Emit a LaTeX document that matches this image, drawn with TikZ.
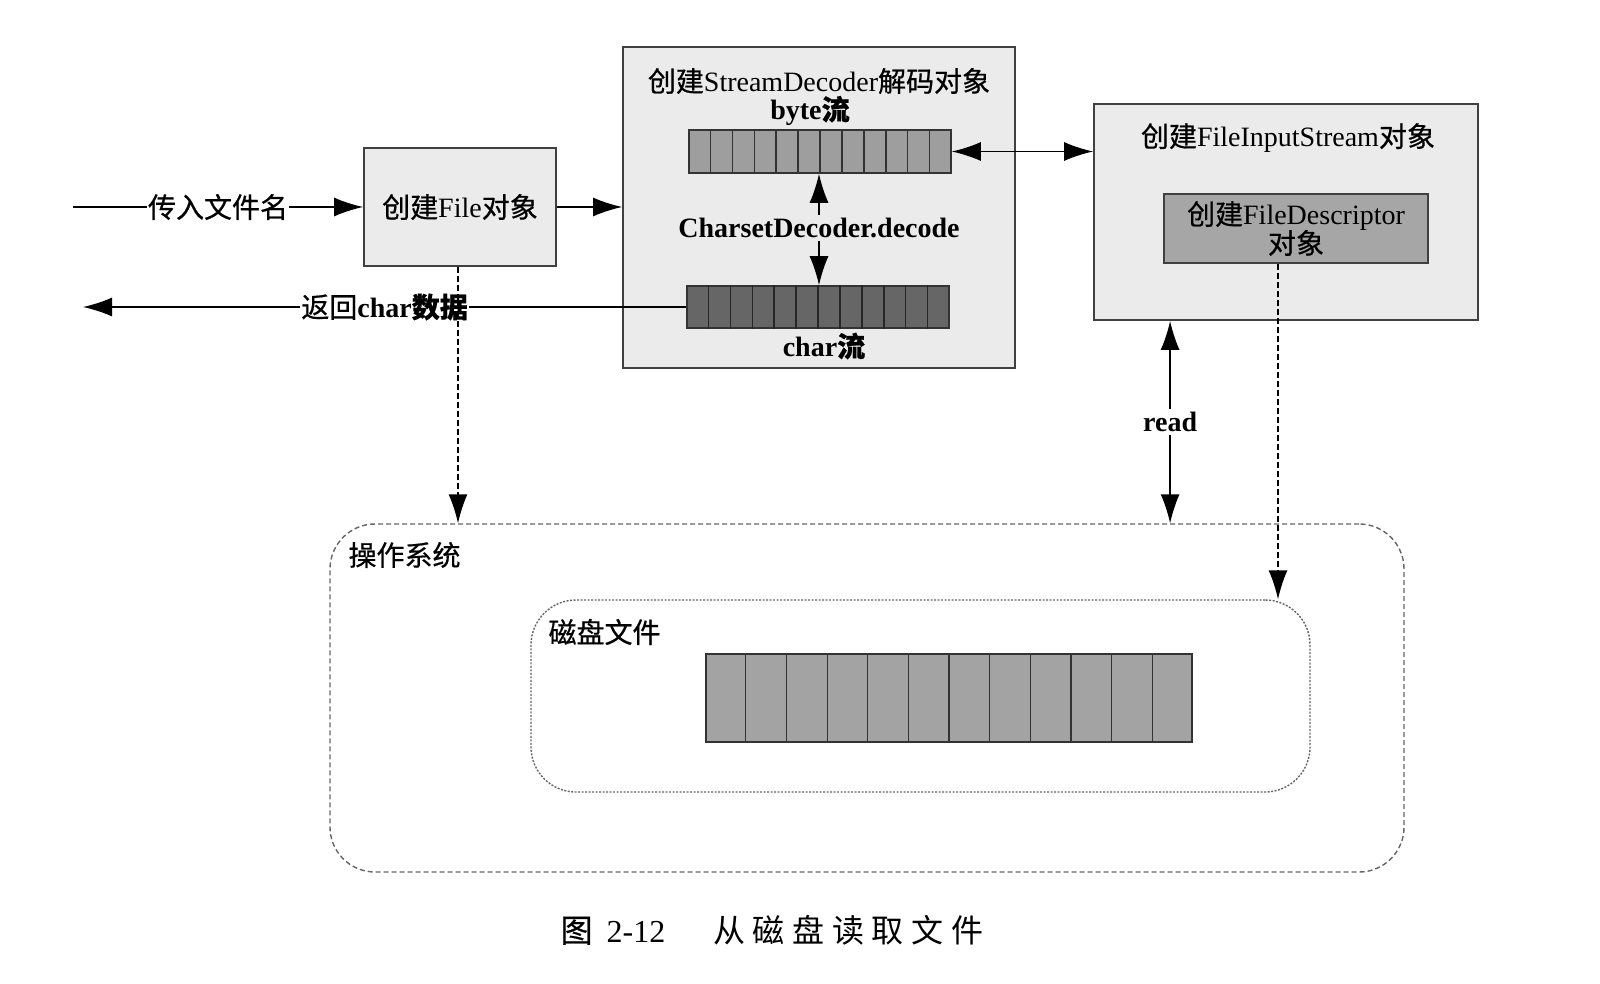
\documentclass[tikz,border=0pt]{standalone}
\usepackage{fontspec}
\setmainfont{Liberation Serif}
\newfontfamily\cjk[FakeBold=0.6]{Noto Sans CJK SC}
\newfontfamily\capfont[LetterSpace=24]{Noto Sans CJK SC}
\usepackage{tikz}
\usetikzlibrary{positioning,arrows.meta,calc}
\newcommand{\zh}[1]{{\cjk #1}}

\begin{document}
\begin{tikzpicture}[x=1pt,y=-1pt,font=\fontsize{28}{33}\selectfont]
 \tikzset{box/.style={draw=black!75,line width=1.8pt,fill=black!8,inner sep=0pt},
  cellrow/.style={draw=black!80,line width=1.6pt,inner sep=0pt},
  boldlabel/.style={font=\fontsize{28}{33}\selectfont\bfseries},
  arrow/.style={line width=1.4pt,-{Latex[length=29pt,width=19pt]}},
  twoway/.style={line width=1.4pt,{Latex[length=29pt,width=19pt]}-{Latex[length=29pt,width=19pt]}},
  dasharrow/.style={arrow,dash pattern=on 6pt off 3pt},
  region/.style={draw=black!60,line width=1.4pt,rounded corners=45pt,inner sep=0pt}}
 \useasboundingbox (0,0) rectangle (1600,984);

 % operating system and disk file
 \node[region,dash pattern=on 5pt off 3pt,minimum width=1074pt,minimum height=348pt] (os) at (867,698) {};
 \node[anchor=west] (oslabel) at (345,555) {\zh{操作系统}};
 \node[region,dash pattern=on 2pt off 1.5pt,minimum width=779pt,minimum height=192pt] (disk) at (920.5,696) {};
 \node[anchor=west] (disklabel) at (545,632) {\zh{磁盘文件}};
 \node[cellrow,fill=black!36,minimum width=486pt,minimum height=88pt] (diskarr) at (949,698) {};
 \foreach \i in {1,...,11}
  \draw[line width=1.2pt,black!80] ($(diskarr.north west)!\i/12!(diskarr.north east)$) -- ($(diskarr.south west)!\i/12!(diskarr.south east)$);

 % objects
 \node[box,minimum width=192pt,minimum height=118pt] (file) at (460,207) {\zh{创建}File\zh{对象}};
 \node[box,minimum width=392pt,minimum height=321pt] (dec) at (819,207.5) {};
 \node (dectitle) at (819,81) {\zh{创建}StreamDecoder\zh{解码对象}};
 \node[boldlabel] (bytelabel) at (810,111) {byte\zh{流}};
 \node[cellrow,fill=black!38,minimum width=262pt,minimum height=43pt] (byte) at (820,151.5) {};
 \node[cellrow,fill=black!60,minimum width=262pt,minimum height=42pt] (char) at (818,307) {};
 \foreach \i in {1,...,11} {
  \draw[line width=1.2pt,black!80] ($(byte.north west)!\i/12!(byte.north east)$) -- ($(byte.south west)!\i/12!(byte.south east)$);
  \draw[line width=1.2pt,black!85] ($(char.north west)!\i/12!(char.north east)$) -- ($(char.south west)!\i/12!(char.south east)$);
 }
 \node[boldlabel] (decode) at (819,228) {CharsetDecoder.decode};
 \node[boldlabel] (charlabel) at (824,346) {char\zh{流}};

 \node[box,minimum width=384pt,minimum height=216pt] (fis) at (1286,212) {};
 \node (fistitle) at (1288,138) {\zh{创建}FileInputStream\zh{对象}};
 \node[box,fill=black!35,minimum width=264pt,minimum height=69pt,align=center] (fd) at (1296,228.5)
  {\zh{创建}FileDescriptor\\[-4pt]\zh{对象}};

 % connectors
 \coordinate (in) at (73,207);
 \coordinate (out) at (83,305);
 \draw[arrow] (in) -- node[fill=white,inner sep=1pt] {\zh{传入文件名}} (file);
 \draw[arrow] (file.east) -- (file.east -| dec.west);
 \draw[twoway] (byte.east) -- (byte.east -| fis.west);
 \draw[arrow] (decode.north) -- (decode.north |- byte.south);
 \draw[arrow] (decode.south) -- (decode.south |- char.north);
 \draw[arrow] (char.west) -- node[fill=white,inner sep=1pt] {\zh{返回}\textbf{char}{\cjk\bfseries 数据}} (char.west -| out);
 \draw[dasharrow] ([xshift=-2pt]file.south) -- ([xshift=-2pt]file.south |- os.north);
 \draw[twoway] ([xshift=77pt]fis.south west) -- node[fill=white,boldlabel,inner sep=3pt] {read} ([xshift=77pt]fis.south west |- os.north);
 \draw[dasharrow] ([xshift=-18pt]fd.south) -- ([xshift=-18pt]fd.south |- disk.north);

 % caption
 \node[font=\fontsize{32}{38}\selectfont] (caption) at (772,930) {\zh{图}\hspace{14pt}2-12\hspace{48pt}{\capfont 从磁盘读取文件}};
\end{tikzpicture}
\end{document}
